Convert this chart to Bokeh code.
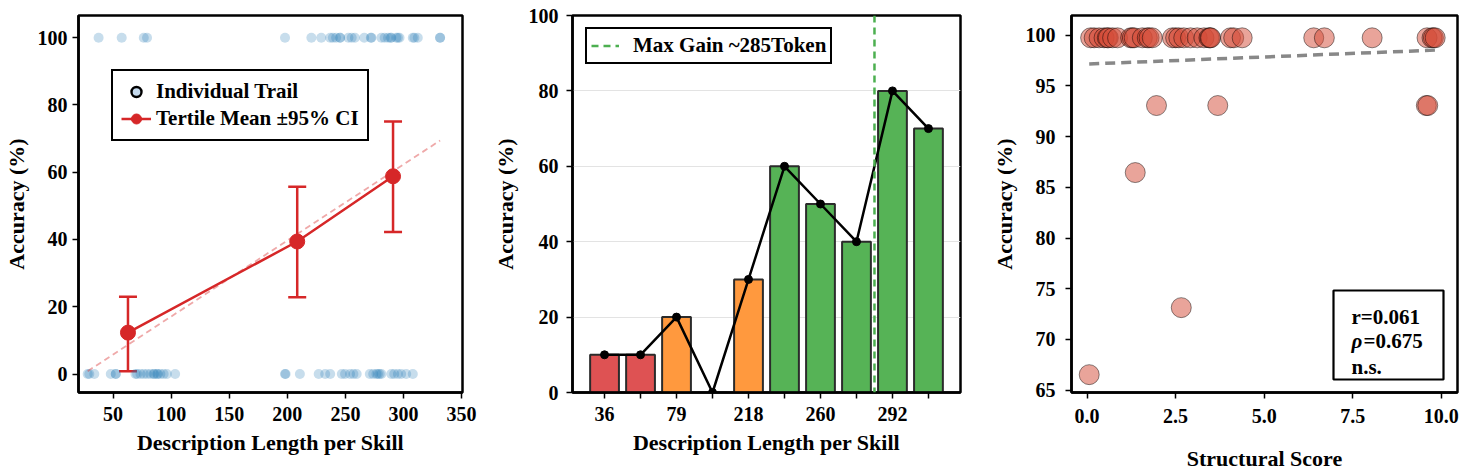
import numpy as np
from bokeh.plotting import figure
from bokeh.layouts import row
from bokeh.models import (ColumnDataSource, Legend, LegendItem, Whisker, TeeHead, Span,
                          FixedTicker, BoxAnnotation, Label, Range1d)
from bokeh.embed import file_html
from bokeh.resources import INLINE

FONT = "Liberation Serif"

# ---------------- Data ----------------
# Panel 1: individual trials (description length, accuracy)
trial_len_hit = [37.5, 57.4, 76.4, 79.2, 198, 220.7, 229.2, 236.9, 239.2, 242, 245.4, 252.6,
                 255.4, 258.2, 266.2, 271.9, 272.4, 281, 283.8, 286.7, 288.9, 293.8, 295.2,
                 296.6, 308, 309.4, 312.3, 331.5, 331.5, 245.4, 289.5]
trial_len_miss = [28.1, 29.5, 33.8, 48, 52.3, 52.3, 69.3, 70.7, 73.6, 76.4, 79.2, 82.1, 84.9,
                  85.5, 87.8, 88.5, 90.7, 93.5, 96.3, 103.4, 198, 198.5, 210.8, 227, 232.6,
                  236.9, 246.9, 249.7, 254, 256.9, 259.7, 271, 273.9, 276.7, 278, 279.5, 281,
                  289.5, 292, 295.2, 298, 302.3, 308]
tertile_x = [62.8, 208.5, 291.0]
tertile_mean = [12.3, 39.4, 58.8]
tertile_lo = [0.8, 22.8, 42.2]
tertile_hi = [23.0, 55.7, 75.1]
fit1_slope, fit1_intercept = 0.226, -5.5

# Panel 2: binned accuracy
bin_labels = ["36", "", "79", "", "218", "", "260", "", "292", ""]
bin_acc = [10, 10, 20, 0, 30, 60, 50, 40, 80, 70]
bin_tier = ["low", "low", "mid", "mid", "mid", "high", "high", "high", "high", "high"]

# Panel 3: structural score vs accuracy
struct_x = [0.10, 0.20, 0.34, 0.48, 0.57, 0.60, 0.72, 0.86, 1.23, 1.28, 1.33, 1.56, 1.70,
            1.75, 1.84, 2.41, 2.50, 2.59, 2.73, 2.92, 3.11, 3.30, 3.44, 3.47, 3.49, 4.05,
            4.14, 4.38, 6.40, 6.70, 8.05, 9.60, 9.74, 9.78, 9.83,
            1.96, 3.69, 9.58, 9.62, 1.36, 2.66, 0.06]
struct_acc = [99.75] * 35 + [93.07, 93.07, 93.07, 93.07, 86.46, 73.14, 66.53]
fit3_slope, fit3_intercept = 0.14, 97.16
stats_lines = ["r=0.061", "=0.675", "n.s."]

TICK = "20px"
LAB = "22px"
LEG = "21px"
NAN = [float("nan")]

# ---------------- Style helpers ----------------
def style(p):
    p.outline_line_color = "black"
    p.outline_line_width = 2.5
    p.outline_line_alpha = 1.0
    for ax in (p.xaxis[0], p.yaxis[0]):
        ax.axis_line_width = 2.5
        ax.axis_line_color = "black"
        ax.major_tick_line_width = 1.5
        ax.major_tick_line_color = "black"
        ax.major_tick_out = 6
        ax.major_tick_in = 0
        ax.minor_tick_line_color = None
        ax.major_label_text_font = FONT
        ax.major_label_text_font_style = "bold"
        ax.major_label_text_font_size = TICK
        ax.major_label_text_color = "black"
        ax.axis_label_text_font = FONT
        ax.axis_label_text_font_style = "bold"
        ax.axis_label_text_font_size = LAB
        ax.axis_label_text_color = "black"
    p.background_fill_color = "white"
    p.border_fill_color = "white"

# ---------------- Panel 1 ----------------
p1 = figure(width=480, height=473, output_backend="svg", toolbar_location=None,
            x_range=Range1d(20.2, 350.8), y_range=Range1d(-5.5, 106.6),
            min_border_left=74, min_border_right=18, min_border_top=12, min_border_bottom=81)
style(p1)
p1.xgrid.visible = False
p1.ygrid.visible = False
p1.xaxis.ticker = FixedTicker(ticks=[50, 100, 150, 200, 250, 300, 350])
p1.yaxis.ticker = FixedTicker(ticks=[0, 20, 40, 60, 80, 100])
p1.xaxis.axis_label = "Description Length per Skill"
p1.yaxis.axis_label = "Accuracy (%)"
p1.xaxis.major_label_standoff = 8
p1.xaxis.axis_label_standoff = 6
p1.yaxis.major_label_standoff = 5
p1.yaxis.axis_label_standoff = 6

all_len = trial_len_hit + trial_len_miss
all_acc = [100] * len(trial_len_hit) + [0] * len(trial_len_miss)
p1.scatter(all_len, all_acc, size=10, fill_color="#1f77b4", fill_alpha=0.25, line_color=None)

xf = np.array([min(all_len), max(all_len)])
p1.line(xf, fit1_intercept + fit1_slope * xf, line_color="#d62728", line_alpha=0.4,
        line_width=1.8, line_dash="6 4")

src_t = ColumnDataSource(dict(x=tertile_x, m=tertile_mean, lo=tertile_lo, hi=tertile_hi))
wh = Whisker(source=src_t, base="x", lower="lo", upper="hi", dimension="height",
             line_color="#d62728", line_width=2.5,
             lower_head=TeeHead(size=18, line_color="#d62728", line_width=2.5),
             upper_head=TeeHead(size=18, line_color="#d62728", line_width=2.5))
p1.add_layout(wh)
p1.line("x", "m", source=src_t, line_color="#d62728", line_width=2.5)
p1.scatter("x", "m", source=src_t, size=15, fill_color="#d62728", line_color="#d62728")

# legend-only renderers (NaN data, nothing drawn in plot)
d_pt = p1.scatter(NAN, NAN, size=15, fill_color="#c6dbef", line_color="black", line_width=2.4)
d_ln = p1.line(NAN, NAN, line_color="#d62728", line_width=2.5)
d_bar = p1.scatter(NAN, NAN, marker="dash", angle=np.pi / 2, size=18, line_color="#d62728",
                   line_width=2.5)
d_dot = p1.scatter(NAN, NAN, size=9, fill_color="#d62728", line_color="#d62728")
leg1 = Legend(items=[LegendItem(label="Individual Trail", renderers=[d_pt]),
                     LegendItem(label="Tertile Mean \u00b195% CI", renderers=[d_ln, d_bar, d_dot])],
              location=(33, 251), label_text_font=FONT, label_text_font_size=LEG,
              label_text_font_style="bold", label_text_color="black",
              glyph_width=30, glyph_height=25, label_height=25, spacing=2, padding=8,
              label_standoff=5, margin=0, border_line_color="black", border_line_width=2.2,
              border_line_alpha=1.0, background_fill_alpha=1.0)
p1.add_layout(leg1, "center")

# ---------------- Panel 2 ----------------
tier_color = {"low": "#de5253", "mid": "#ff993e", "high": "#56b356"}
idx = list(range(len(bin_acc)))
src_b = ColumnDataSource(dict(x=idx, acc=bin_acc, c=[tier_color[t] for t in bin_tier]))
p2 = figure(width=490, height=473, output_backend="svg", toolbar_location=None,
            x_range=Range1d(-0.89, 9.89), y_range=Range1d(0, 100),
            min_border_left=92, min_border_right=10, min_border_top=13, min_border_bottom=81)
style(p2)
p2.xgrid.visible = False
p2.ygrid.grid_line_color = "#e3e3e3"
p2.ygrid.grid_line_width = 1
p2.xaxis.ticker = FixedTicker(ticks=idx)
p2.xaxis.major_label_overrides = {i: s for i, s in zip(idx, bin_labels)}
p2.yaxis.ticker = FixedTicker(ticks=[0, 20, 40, 60, 80, 100])
p2.xaxis.axis_label = "Description Length per Skill"
p2.yaxis.axis_label = "Accuracy (%)"
p2.xaxis.major_label_standoff = 8
p2.xaxis.axis_label_standoff = 6
p2.yaxis.major_label_standoff = 8
p2.yaxis.axis_label_standoff = 8

p2.vbar(x="x", top="acc", width=0.8, source=src_b, fill_color="c", line_color="#2b2b2b",
        line_width=2)
p2.line("x", "acc", source=src_b, line_color="black", line_width=2.5)
p2.scatter("x", "acc", source=src_b, size=8, fill_color="black", line_color="black")

gain_pos = int(np.argmax(np.diff(bin_acc))) + 0.5
p2.add_layout(Span(location=gain_pos, dimension="height", line_color="#4caf50",
                   line_width=2.5, line_dash="7 5"))
d_g = p2.line(NAN, NAN, line_color="#4caf50", line_width=2.5, line_dash="7 5")
leg2 = Legend(items=[LegendItem(label="Max Gain ~285Token", renderers=[d_g])],
              location=(13, 328), label_text_font=FONT, label_text_font_size=LEG,
              label_text_font_style="bold", label_text_color="black",
              glyph_width=28, glyph_height=21, label_height=21, padding=4,
              label_standoff=14, margin=0, border_line_color="black", border_line_width=2.2,
              border_line_alpha=1.0, background_fill_alpha=1.0)
p2.add_layout(leg2, "center")

# ---------------- Panel 3 ----------------
p3 = figure(width=494, height=473, output_backend="svg", toolbar_location=None,
            x_range=Range1d(-0.44, 10.46), y_range=Range1d(64.77, 101.95),
            min_border_left=101, min_border_right=7, min_border_top=15, min_border_bottom=77)
style(p3)
p3.xgrid.visible = False
p3.ygrid.visible = False
p3.xaxis.ticker = FixedTicker(ticks=[0, 2.5, 5, 7.5, 10])
p3.xaxis.major_label_overrides = {0: "0.0", 2.5: "2.5", 5: "5.0", 7.5: "7.5", 10: "10.0"}
p3.yaxis.ticker = FixedTicker(ticks=[65, 70, 75, 80, 85, 90, 95, 100])
p3.xaxis.axis_label = "Structural Score"
p3.yaxis.axis_label = "Accuracy (%)"
p3.xaxis.major_label_standoff = 10
p3.xaxis.axis_label_standoff = 20
p3.yaxis.major_label_standoff = 10
p3.yaxis.axis_label_standoff = 6

p3.scatter(struct_x, struct_acc, size=20, fill_color="#d44a35", fill_alpha=0.5,
           line_color="black", line_alpha=0.45, line_width=1)
xf3 = np.array([min(struct_x), max(struct_x)])
p3.line(xf3, fit3_intercept + fit3_slope * xf3, line_color="#888888", line_width=3.5,
        line_dash="10 6")

p3.add_layout(BoxAnnotation(left=262, right=372, bottom=13, top=102, left_units="screen",
                            right_units="screen", bottom_units="screen", top_units="screen",
                            fill_color="white", fill_alpha=1.0, line_color="black",
                            line_width=2.2, line_alpha=1.0))
lab_kw = dict(x_units="screen", y_units="screen", text_font=FONT, text_font_style="bold",
              text_font_size="21px", text_color="black", text_baseline="alphabetic")
p3.add_layout(Label(x=280, y=76, text=stats_lines[0], **lab_kw))
p3.add_layout(Label(x=280, y=52, text="\u03c1", **{**lab_kw, "text_font_style": "bold italic"}))
p3.add_layout(Label(x=292, y=52, text=stats_lines[1], **lab_kw))
p3.add_layout(Label(x=280, y=26, text=stats_lines[2], **lab_kw))

layout = row(p1, p2, p3)
open("out.html", "w").write(file_html(layout, INLINE))
